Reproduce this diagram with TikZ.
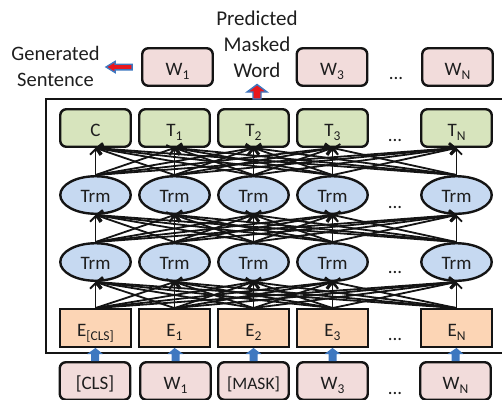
\documentclass[tikz,border=0pt]{standalone}
\usepackage{fontspec}
\setmainfont{Carlito}
\usetikzlibrary{shapes.geometric,arrows.meta,calc}
\definecolor{edgec}{HTML}{141414}
\definecolor{txtc}{HTML}{1E1E1E}
\definecolor{greenf}{HTML}{D7E4BD}
\definecolor{bluef}{HTML}{C6D9F1}
\definecolor{orangef}{HTML}{FCD5B5}
\definecolor{pinkf}{HTML}{F2DCDB}
\definecolor{arrowblue}{HTML}{3E78C0}
\definecolor{arrowred}{HTML}{E8171D}
\newcommand\lowsub[1]{\raisebox{-4pt}{\fontsize{13.5}{14}\selectfont #1}}
\begin{document}
\begin{tikzpicture}[x=1pt,y=-1pt,
  font=\fontsize{19}{22}\selectfont, text=txtc,
  box/.style={draw=edgec,line width=2.4pt,minimum width=70.5pt,minimum height=37.5pt,inner sep=0pt,text height=16pt,text depth=0pt},
  outbox/.style={box,rounded corners=6pt},
  greenbox/.style={outbox,fill=greenf},
  pinkbox/.style={outbox,fill=pinkf},
  embbox/.style={box,fill=orangef},
  trm/.style={ellipse,draw=edgec,line width=2.4pt,fill=bluef,minimum width=70.5pt,minimum height=37.5pt,inner sep=0pt,text height=14pt,text depth=0pt},
  conn/.style={draw=edgec,line width=1.8pt,-{Straight Barb[length=5.5pt,width=11pt]}},
  dotsnode/.style={inner sep=0pt,anchor=base},
  fatred/.style={fill=arrowred,draw=arrowblue,line width=1.4pt,line join=miter},
  fatblue/.style={fill=arrowblue},
  frame/.style={draw=edgec,line width=2.4pt}
]
\useasboundingbox (0,0) rectangle (502,399);

% labels
\node[align=center,font=\fontsize{21}{26}\selectfont] (pred) at (257,44) {Predicted\\Masked\\Word};
\node[align=center,font=\fontsize{20.5}{26}\selectfont] (gen) at (55.5,66) {Generated\\Sentence};

% top output words
\node[pinkbox] (wt1) at (177.5,67) {W\lowsub{1}};
\node[pinkbox] (wt3) at (332,67) {W\lowsub{3}};
\node[pinkbox] (wtn) at (457.5,67) {W\lowsub{N}};
\node[dotsnode] (dt) at (396,79) {...};

% frame
\draw[frame] (46,99) rectangle (515,353);
\coordinate (ftop) at (257,99);

% green outputs
\node[greenbox] (g1) at (95.5,128) {C};
\node[greenbox] (g2) at (174.5,128) {T\lowsub{1}};
\node[greenbox] (g3) at (253.5,128) {T\lowsub{2}};
\node[greenbox] (g4) at (332.5,128) {T\lowsub{3}};
\node[greenbox] (g5) at (456.5,128) {T\lowsub{N}};
\node[dotsnode] (dg) at (395,141) {...};

% upper Trm
\node[trm] (u1) at (95.5,195) {Trm};
\node[trm] (u2) at (174.5,195) {Trm};
\node[trm] (u3) at (253.5,195) {Trm};
\node[trm] (u4) at (332.5,195) {Trm};
\node[trm] (u5) at (456.5,195) {Trm};
\node[dotsnode] (du) at (395,208) {...};

% lower Trm
\node[trm] (l1) at (95.5,262) {Trm};
\node[trm] (l2) at (174.5,262) {Trm};
\node[trm] (l3) at (253.5,262) {Trm};
\node[trm] (l4) at (332.5,262) {Trm};
\node[trm] (l5) at (456.5,262) {Trm};
\node[dotsnode] (dl) at (395,273) {...};

% embeddings
\node[embbox] (e1) at (95.5,328) {E\lowsub{[CLS]}};
\node[embbox] (e2) at (174.5,328) {E\lowsub{1}};
\node[embbox] (e3) at (253.5,328) {E\lowsub{2}};
\node[embbox] (e4) at (332.5,328) {E\lowsub{3}};
\node[embbox] (e5) at (456.5,328) {E\lowsub{N}};
\node[dotsnode] (de) at (395,340) {...};

% inputs
\node[pinkbox] (b1) at (95,381) {[CLS]};
\node[pinkbox] (b2) at (175.5,381) {W\lowsub{1}};
\node[pinkbox,font=\fontsize{17.5}{20}\selectfont] (b3) at (253.5,381) {[MASK]};
\node[pinkbox] (b4) at (332.5,381) {W\lowsub{3}};
\node[pinkbox] (b5) at (455.5,381) {W\lowsub{N}};
\node[dotsnode] (db) at (395,394) {...};

% all-to-all connections
\foreach \a in {1,...,5} {
  \foreach \b in {1,...,5} {
    \draw[conn] (e\a.north) -- (l\b.south);
    \draw[conn] (l\a.north) -- (u\b.south);
    \draw[conn] (u\a.north) -- (g\b.south);
  }
}

% blue input arrows
\foreach \i in {1,...,5} {
  \fill[fatblue] ($(b\i.north)+(-4,0)$) -- ($(b\i.north)+(-4,-7)$) -- ($(b\i.north)+(-8,-7)$)
     -- (e\i.south) -- ($(b\i.north)+(8,-7)$) -- ($(b\i.north)+(4,-7)$) -- ($(b\i.north)+(4,0)$) -- cycle;
}

% red arrows
\draw[fatred] ($(wt1.west)+(-9,-2.8)$) -- ($(wt1.west)+(-26,-2.8)$) -- ($(wt1.west)+(-26,-5.5)$)
   -- ($(wt1.west)+(-35,0)$) -- ($(wt1.west)+(-26,5.5)$) -- ($(wt1.west)+(-26,2.8)$) -- ($(wt1.west)+(-9,2.8)$) -- cycle;
\draw[fatred] ($(ftop)+(-4,0)$) -- ($(ftop)+(-4,-7)$) -- ($(ftop)+(-10,-7)$) -- ($(ftop)+(0,-14.5)$)
   -- ($(ftop)+(10,-7)$) -- ($(ftop)+(4,-7)$) -- ($(ftop)+(4,0)$) -- cycle;
\end{tikzpicture}
\end{document}
